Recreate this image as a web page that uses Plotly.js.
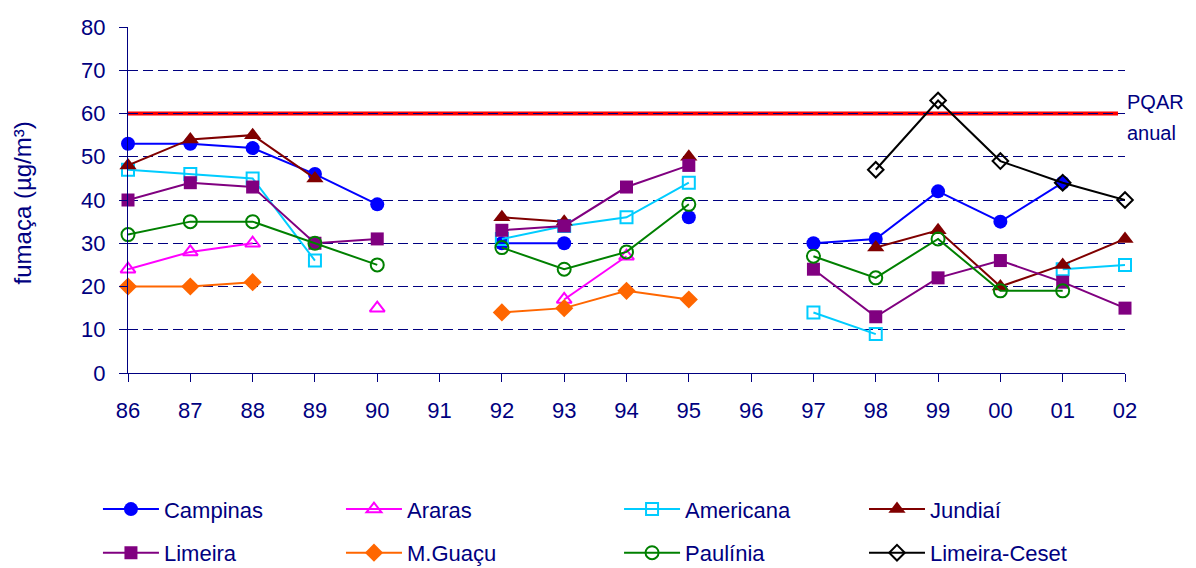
<!DOCTYPE html>
<html>
<head>
<meta charset="utf-8">
<script src="https://cdn.plot.ly/plotly-3.0.1.min.js"></script>
<style>html,body{margin:0;padding:0;background:#fff;}#chart{width:1196px;height:568px;}</style>
</head>
<body>
<div id="chart"></div>
<script>
const years = ['86','87','88','89','90','91','92','93','94','95','96','97','98','99','00','01','02'];
const campinas  = [53, 53, 52, 46, 39, null, 30, 30, null, 36, null, 30, 31, 42, 35, 44, null];
const araras    = [24, 28, 30, null, 15, null, null, 17, 27, null, null, null, null, null, null, null, null];
const americana = [47, 46, 45, 26, null, null, 31, 34, 36, 44, null, 14, 9, null, null, 24, 25];
const jundiai   = [48, 54, 55, 45, null, null, 36, 35, null, 50, null, null, 29, 33, 20, 25, 31];
const limeira   = [40, 44, 43, 30, 31, null, 33, 34, 43, 48, null, 24, 13, 22, 26, 21, 15];
const mguacu    = [20, 20, 21, null, null, null, 14, 15, 19, 17, null, null, null, null, null, null, null];
const paulinia  = [32, 35, 35, 30, 25, null, 29, 24, 28, 39, null, 27, 22, 31, 19, 19, null];
const ceset     = [null, null, null, null, null, null, null, null, null, null, null, null, 47, 63, 49, 44, 40];
const pqar = 60;
const seriesNames = ['Campinas','Araras','Americana','Jundiaí','Limeira','M.Guaçu','Paulínia','Limeira-Ceset'];
const yTitle = 'fumaça (µg/m³)';

const NAVY = '#000080';
const FONT = 'Liberation Sans, Arial, sans-serif';
function tr(name, y, color, symbol, size, legend, open) {
  return {
    type: 'scatter', mode: 'lines+markers', x: years, y: y, name: name,
    legend: legend, legendgroup: name,
    line: {color: color, width: 2},
    marker: {color: color, symbol: symbol, size: size,
             line: {color: color, width: open ? 2 : 0}},
    connectgaps: false, cliponaxis: false
  };
}
const data = [
  tr(seriesNames[0], campinas,  '#0000FF', 'circle', 14, 'legend', false),
  tr(seriesNames[1], araras,    '#FF00FF', 'triangle-up-open', 13, 'legend2', true),
  tr(seriesNames[2], americana, '#00CCFF', 'square-open', 12, 'legend3', true),
  tr(seriesNames[3], jundiai,   '#800000', 'triangle-up', 15, 'legend4', false),
  tr(seriesNames[4], limeira,   '#800080', 'square', 13, 'legend', false),
  tr(seriesNames[5], mguacu,    '#FF6600', 'diamond', 14, 'legend2', false),
  tr(seriesNames[6], paulinia,  '#008000', 'circle-open', 13, 'legend3', true),
  tr(seriesNames[7], ceset,     '#000000', 'diamond-open', 12, 'legend4', true)
];

function leg(x) {
  return {x: x, y: 0.1403, xref: 'container', yref: 'container', xanchor: 'left', yanchor: 'top',
          orientation: 'v', traceorder: 'grouped', tracegroupgap: 12, itemwidth: 56,
          bgcolor: 'rgba(0,0,0,0)', borderwidth: 0,
          font: {family: FONT, size: 22, color: NAVY}};
}

const layout = {
  width: 1196, height: 568,
  margin: {l: 128, r: 71, t: 27, b: 195, autoexpand: false},
  paper_bgcolor: '#ffffff', plot_bgcolor: '#ffffff',
  font: {family: FONT, color: NAVY},
  showlegend: true,
  xaxis: {
    type: 'category', range: [0, 16], showline: true, linecolor: NAVY, linewidth: 1,
    ticks: 'outside', ticklen: 8, tickcolor: NAVY, showgrid: false, zeroline: false,
    tickfont: {size: 22, color: NAVY}, ticklabelstandoff: 10, automargin: false
  },
  yaxis: {
    range: [0, 80], dtick: 10, tick0: 0, showline: true, linecolor: NAVY, linewidth: 1,
    ticks: 'outside', ticklen: 8, tickcolor: NAVY, zeroline: false,
    showgrid: true, gridcolor: NAVY, gridwidth: 1, griddash: '10px,5px',
    tickfont: {size: 22, color: NAVY}, ticklabelstandoff: 9, automargin: false
  },
  shapes: [{type: 'line', xref: 'paper', yref: 'y', x0: 0, x1: 0.993, y0: pqar, y1: pqar,
            line: {color: '#FF0000', width: 4}, layer: 'below'}],
  annotations: [
    {xref: 'paper', yref: 'paper', x: -0.1063, y: 0.49, text: yTitle, textangle: -90, showarrow: false,
     xanchor: 'center', yanchor: 'middle', font: {size: 24, color: NAVY}},
    {xref: 'paper', yref: 'y', x: 1.0, y: 62.6, text: 'PQAR', showarrow: false, xanchor: 'left', yanchor: 'middle',
     font: {size: 20, color: NAVY}},
    {xref: 'paper', yref: 'y', x: 1.0, y: 55.4, text: 'anual', showarrow: false, xanchor: 'left', yanchor: 'middle',
     font: {size: 20, color: NAVY}}
  ],
  legend: leg(0.0819), legend2: leg(0.2851), legend3: leg(0.5176), legend4: leg(0.7224)
};

Plotly.newPlot('chart', data, layout, {staticPlot: true, displayModeBar: false});
</script>
</body>
</html>
